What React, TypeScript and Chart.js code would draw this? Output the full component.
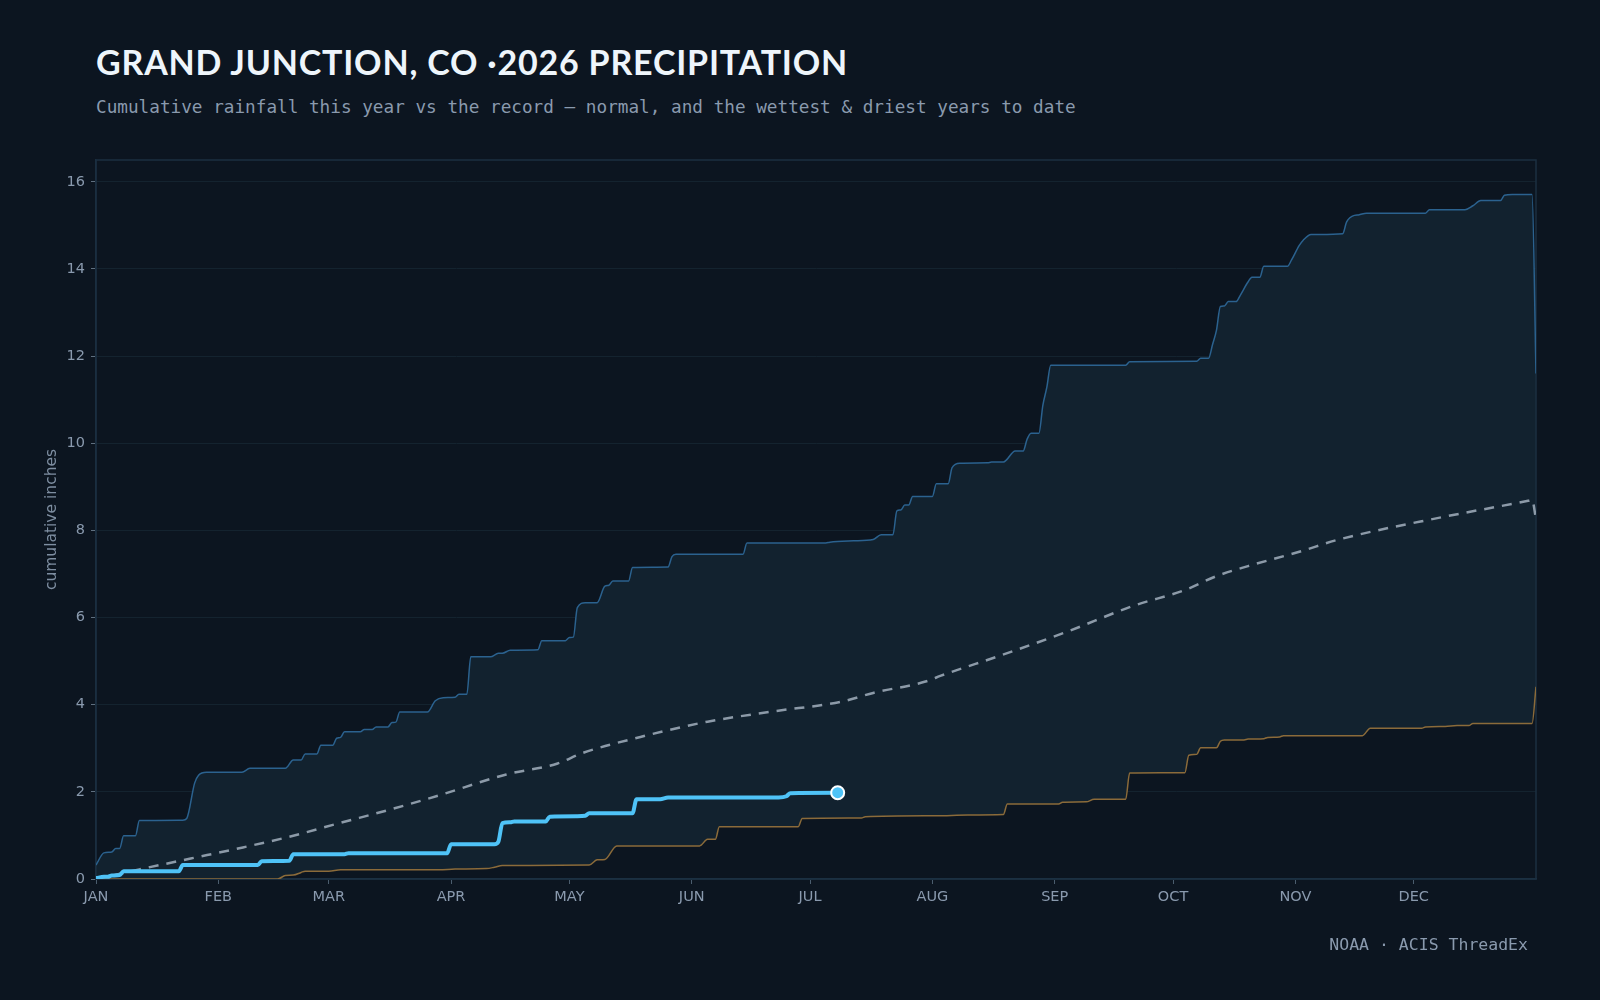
import React, { useEffect, useRef } from "react";
import { Chart, registerables } from "chart.js";

Chart.register(...registerables);

// ---- axis labels ----
const monthLabels = ["JAN", "FEB", "MAR", "APR", "MAY", "JUN", "JUL", "AUG", "SEP", "OCT", "NOV", "DEC"];
const monthStartDays = [0, 31, 59, 90, 120, 151, 181, 212, 243, 273, 304, 334];
const yTickValues = [0, 2, 4, 6, 8, 10, 12, 14, 16];

// ---- wettest year to date (day of year, cumulative inches) ----
const wettestDays = [
  0, 2, 4, 5, 6, 7, 10, 11, 22, 23, 25, 26, 28, 37, 39, 48, 50, 52, 53, 56, 57, 60, 61, 62, 63, 67, 68, 70, 71, 74,
  75, 76, 77, 84, 86, 88, 91, 92, 94, 95, 100, 102, 103, 105, 112, 113, 119, 120, 121, 122, 124, 127, 129, 130, 131,
  135, 136, 145, 146, 147, 164, 165, 185, 186, 192, 197, 199, 202, 203, 204, 205, 206, 207, 212, 213, 216, 217, 219,
  226, 227, 230, 233, 235, 236, 237, 239, 240, 241, 242, 261, 262, 279, 280, 282, 283, 284, 285, 286, 287, 289, 290,
  292, 293, 295, 296, 302, 303, 305, 306, 308, 316, 317, 319, 320, 322, 337, 338, 347, 349, 351, 356, 357, 359, 364,
  365,
];
const wettestInches = [
  0.32, 0.6, 0.62, 0.7, 0.7, 0.99, 0.99, 1.34, 1.35, 1.39, 2.2, 2.38, 2.45, 2.45, 2.54, 2.54, 2.73, 2.73, 2.87, 2.87,
  3.07, 3.07, 3.23, 3.25, 3.38, 3.38, 3.43, 3.43, 3.49, 3.49, 3.59, 3.6, 3.83, 3.83, 4.09, 4.16, 4.17, 4.24, 4.24, 5.1,
  5.1, 5.18, 5.18, 5.25, 5.26, 5.47, 5.47, 5.54, 5.55, 6.23, 6.34, 6.34, 6.72, 6.74, 6.84, 6.84, 7.15, 7.16, 7.4, 7.45,
  7.45, 7.71, 7.71, 7.73, 7.76, 7.79, 7.9, 7.9, 8.45, 8.47, 8.58, 8.58, 8.78, 8.78, 9.07, 9.07, 9.44, 9.54, 9.55, 9.57,
  9.57, 9.82, 9.82, 10.09, 10.23, 10.23, 10.87, 11.28, 11.79, 11.79, 11.87, 11.88, 11.95, 11.95, 12.26, 12.59, 13.14,
  13.15, 13.25, 13.25, 13.39, 13.7, 13.81, 13.81, 14.06, 14.06, 14.2, 14.54, 14.66, 14.79, 14.81, 15.08, 15.23, 15.24,
  15.28, 15.28, 15.36, 15.36, 15.45, 15.57, 15.57, 15.69, 15.71, 15.71, 11.6,
];

// ---- driest year to date ----
const driestDays = [
  0, 46, 48, 50, 52, 53, 59, 62, 87, 91, 99, 101, 103, 125, 127, 129, 132, 153, 155, 157, 158, 178, 179, 194, 195, 213,
  221, 230, 231, 244, 245, 251, 253, 261, 262, 276, 277, 279, 280, 284, 285, 286, 291, 292, 296, 297, 300, 301, 321,
  323, 336, 337, 342, 345, 348, 349, 364, 365,
];
const driestInches = [
  0, 0, 0.08, 0.09, 0.15, 0.18, 0.18, 0.21, 0.21, 0.23, 0.24, 0.27, 0.31, 0.32, 0.44, 0.45, 0.76, 0.76, 0.91, 0.91,
  1.2, 1.2, 1.39, 1.4, 1.43, 1.45, 1.47, 1.48, 1.72, 1.72, 1.76, 1.77, 1.83, 1.83, 2.43, 2.44, 2.84, 2.86, 3.01, 3.01,
  3.16, 3.19, 3.19, 3.21, 3.22, 3.25, 3.26, 3.29, 3.29, 3.46, 3.46, 3.49, 3.5, 3.52, 3.52, 3.57, 3.57, 4.41,
];

// ---- normal ----
const normalDays = [
  0, 5, 11, 24, 36, 49, 62, 74, 87, 104, 117, 123, 138, 155, 172, 189, 197, 211, 214, 229, 246, 263, 276, 284, 292,
  305, 315, 341, 363, 364, 365,
];
const normalInches = [
  0, 0.1, 0.22, 0.47, 0.7, 0.97, 1.29, 1.58, 1.92, 2.4, 2.65, 2.88, 3.26, 3.61, 3.85, 4.07, 4.27, 4.55, 4.66, 5.12,
  5.67, 6.27, 6.63, 6.95, 7.18, 7.51, 7.79, 8.3, 8.68, 8.7, 8.26,
];

// ---- 2026 so far ----
const currentDays = [
  0, 2, 3, 4, 6, 7, 21, 22, 41, 42, 49, 50, 63, 64, 89, 90, 101, 102, 103, 105, 106, 114, 115, 122, 124, 125, 136, 137,
  143, 145, 173, 175, 176, 188,
];
const currentInches = [
  0.02, 0.05, 0.05, 0.08, 0.09, 0.18, 0.18, 0.32, 0.32, 0.41, 0.42, 0.57, 0.57, 0.59, 0.59, 0.8, 0.8, 0.86, 1.28, 1.3,
  1.32, 1.32, 1.43, 1.44, 1.45, 1.51, 1.51, 1.83, 1.83, 1.87, 1.87, 1.9, 1.97, 1.98,
];

const toPoints = (days: number[], vals: number[]) => days.map((d, i) => ({ x: d, y: vals[i] }));

const BG = "#0c1520";
const MUTED = "#8a9aae";

const framePlugin = {
  id: "frame",
  beforeDatasetsDraw(chart: any) {
    const { ctx, chartArea } = chart;
    ctx.save();
    ctx.strokeStyle = "#1b2f40";
    ctx.lineWidth = 1.5;
    ctx.strokeRect(chartArea.left, chartArea.top, chartArea.right - chartArea.left, chartArea.bottom - chartArea.top);
    ctx.restore();
  },
};

export default function App() {
  const canvasRef = useRef<HTMLCanvasElement | null>(null);

  useEffect(() => {
    if (!canvasRef.current) return;
    Chart.defaults.font.family = "'DejaVu Sans', sans-serif";
    const currentPts = toPoints(currentDays, currentInches);
    const lastIdx = currentPts.length - 1;
    const chart = new Chart(canvasRef.current, {
      type: "line",
      data: {
        datasets: [
          {
            label: "2026",
            data: currentPts,
            borderColor: "#4fc3f7",
            borderWidth: 4,
            pointRadius: (c: any) => (c.dataIndex === lastIdx ? 6.5 : 0),
            pointBackgroundColor: "#4fc3f7",
            pointBorderColor: "#ffffff",
            pointBorderWidth: 2,
            fill: false,
            cubicInterpolationMode: "monotone",
          },
          {
            label: "normal",
            data: toPoints(normalDays, normalInches),
            borderColor: "#8c9aa8",
            borderWidth: 2.5,
            borderDash: [10, 8],
            pointRadius: 0,
            fill: false,
            cubicInterpolationMode: "monotone",
          },
          {
            label: "wettest",
            data: toPoints(wettestDays, wettestInches),
            borderColor: "#2b628f",
            borderWidth: 1.5,
            pointRadius: 0,
            backgroundColor: "#12222f",
            fill: { target: 3 },
            cubicInterpolationMode: "monotone",
          },
          {
            label: "driest",
            data: toPoints(driestDays, driestInches),
            borderColor: "#8b6b3a",
            borderWidth: 1.5,
            pointRadius: 0,
            fill: false,
            cubicInterpolationMode: "monotone",
          },
        ],
      },
      options: {
        animation: false,
        responsive: false,
        maintainAspectRatio: false,
        layout: { padding: { left: 0, top: 160, right: 64, bottom: 0 } },
        plugins: {
          legend: { display: false },
          tooltip: { enabled: false },
          filler: { drawTime: "beforeDatasetsDraw" },
        } as any,
        scales: {
          x: {
            type: "linear",
            min: 0,
            max: 365,
            afterBuildTicks: (s: any) => {
              s.ticks = monthStartDays.map((v) => ({ value: v }));
            },
            afterFit: (s: any) => {
              s.height = 121;
            },
            ticks: {
              autoSkip: false,
              maxRotation: 0,
              color: MUTED,
              font: { size: 14.5 },
              padding: 5,
              callback: (v: any) => {
                const i = monthStartDays.indexOf(Number(v));
                return i >= 0 ? monthLabels[i] : "";
              },
            },
            grid: { drawOnChartArea: false, tickLength: 5, tickColor: "#4b5d6e" },
            border: { color: "#1e3447", width: 1.5 },
          },
          y: {
            min: 0,
            max: 16.5,
            afterBuildTicks: (s: any) => {
              s.ticks = yTickValues.map((v) => ({ value: v }));
            },
            afterFit: (s: any) => {
              s.width = 96;
            },
            ticks: {
              color: MUTED,
              font: { size: 14.5 },
              padding: 6,
              callback: (v: any) => String(v),
            },
            grid: { color: "#14232f", tickLength: 5, tickColor: "#5f7080", lineWidth: 1 },
            border: { color: "#1b2f40", width: 1.5 },
            title: {
              display: true,
              text: "cumulative inches",
              color: "#7e8ea1",
              font: { size: 15.5 },
              padding: { top: 42.5, bottom: 0 },
            },
          },
        },
      } as any,
      plugins: [framePlugin],
    });
    return () => chart.destroy();
  }, []);

  return (
    <div
      style={{
        position: "fixed",
        left: 0,
        top: 0,
        width: 1600,
        height: 1000,
        background: BG,
        overflow: "hidden",
      }}
    >
      <div
        style={{
          position: "absolute",
          left: 96,
          top: 45,
          fontFamily: "Lato, 'DejaVu Sans', sans-serif",
          fontWeight: 700,
          fontSize: 34,
          lineHeight: 1,
          color: "#eef5fb",
          whiteSpace: "nowrap",
          letterSpacing: 0.8,
        }}
      >
        GRAND JUNCTION, CO ·2026 PRECIPITATION
      </div>
      <div
        style={{
          position: "absolute",
          left: 96,
          top: 98.5,
          fontFamily: "'DejaVu Sans Mono', monospace",
          fontSize: 17.7,
          lineHeight: 1,
          color: MUTED,
          whiteSpace: "nowrap",
        }}
      >
        Cumulative rainfall this year vs the record — normal, and the wettest &amp; driest years to date
      </div>
      <canvas ref={canvasRef} width={1600} height={1000} style={{ position: "absolute", left: 0, top: 0, display: "block" }} />
      <div
        style={{
          position: "absolute",
          right: 72,
          top: 936.7,
          fontFamily: "'DejaVu Sans Mono', monospace",
          fontSize: 16.5,
          lineHeight: 1,
          color: MUTED,
          whiteSpace: "nowrap",
        }}
      >
        NOAA · ACIS ThreadEx
      </div>
    </div>
  );
}
